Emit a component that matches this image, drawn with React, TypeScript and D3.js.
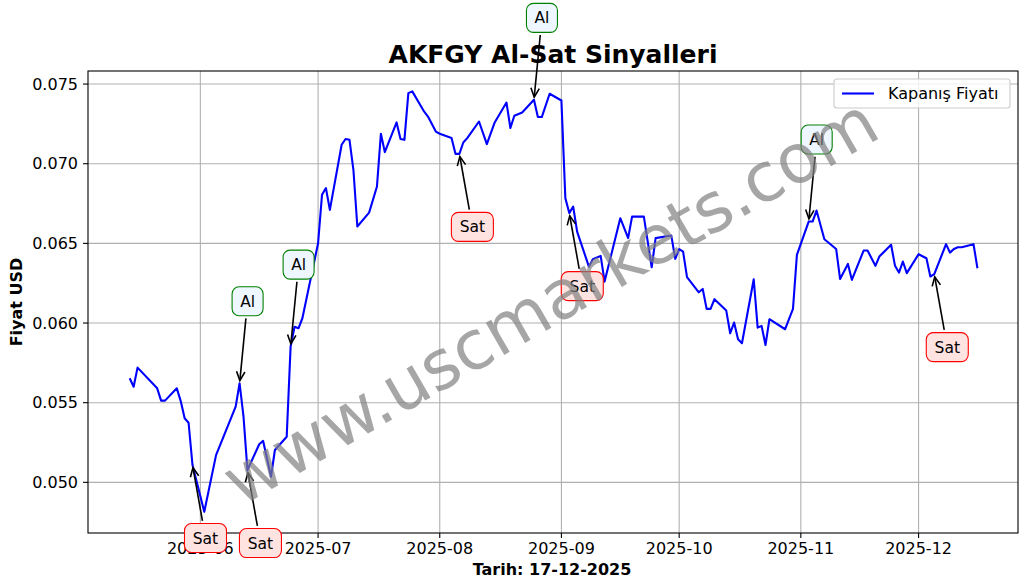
import React from 'react';
import * as d3 from 'd3';

const dates = [
  "2025-05-14","2025-05-15","2025-05-16","2025-05-21","2025-05-22","2025-05-23","2025-05-26","2025-05-27","2025-05-28","2025-05-29","2025-05-30",
  "2025-06-02","2025-06-05","2025-06-10","2025-06-11","2025-06-12","2025-06-13","2025-06-16","2025-06-17","2025-06-19","2025-06-20",
  "2025-06-23","2025-06-24","2025-06-25","2025-06-26","2025-06-27","2025-07-01","2025-07-02","2025-07-03","2025-07-04",
  "2025-07-07","2025-07-08","2025-07-09","2025-07-10","2025-07-11","2025-07-14","2025-07-16","2025-07-17","2025-07-18",
  "2025-07-21","2025-07-22","2025-07-23","2025-07-24","2025-07-25","2025-07-28","2025-07-29","2025-07-31","2025-08-01",
  "2025-08-04","2025-08-05","2025-08-06","2025-08-07","2025-08-08","2025-08-11","2025-08-13","2025-08-15",
  "2025-08-18","2025-08-19","2025-08-20","2025-08-22","2025-08-25","2025-08-26","2025-08-27","2025-08-29",
  "2025-09-01","2025-09-02","2025-09-03","2025-09-04","2025-09-05","2025-09-08","2025-09-09","2025-09-11","2025-09-12",
  "2025-09-16","2025-09-18","2025-09-19","2025-09-22","2025-09-24","2025-09-25","2025-09-29","2025-09-30",
  "2025-10-01","2025-10-02","2025-10-03","2025-10-06","2025-10-07","2025-10-08","2025-10-09","2025-10-10",
  "2025-10-13","2025-10-14","2025-10-15","2025-10-16","2025-10-17","2025-10-20","2025-10-21","2025-10-22","2025-10-23","2025-10-24",
  "2025-10-28","2025-10-30","2025-10-31","2025-11-03","2025-11-04","2025-11-05","2025-11-07","2025-11-10","2025-11-11",
  "2025-11-13","2025-11-14","2025-11-17","2025-11-18","2025-11-20","2025-11-21","2025-11-24","2025-11-25","2025-11-26",
  "2025-11-27","2025-11-28","2025-12-01","2025-12-03","2025-12-04","2025-12-05","2025-12-08","2025-12-09","2025-12-10",
  "2025-12-11","2025-12-12","2025-12-15","2025-12-16"
];

const closes = [
  0.05653,0.05600,0.05720,0.05590,0.05513,0.05513,0.05590,0.05510,0.05402,0.05374,0.05109,
  0.04815,0.05171,0.05475,0.05622,0.05412,0.05077,0.05239,0.05260,0.05035,0.05203,
  0.05286,0.05852,0.05977,0.05967,0.06030,0.06501,0.06805,0.06847,0.06710,
  0.07119,0.07155,0.07150,0.06962,0.06606,0.06693,0.06857,0.07188,0.07073,
  0.07259,0.07155,0.07150,0.07443,0.07454,0.07328,0.07296,0.07202,0.07188,
  0.07161,0.07062,0.07062,0.07133,0.07161,0.07265,0.07123,0.07259,
  0.07384,0.07224,0.07301,0.07322,0.07401,0.07293,0.07293,0.07439,
  0.07397,0.06784,0.06690,0.06731,0.06574,0.06354,0.06401,0.06421,0.06260,
  0.06658,0.06533,0.06668,0.06668,0.06350,0.06533,0.06549,0.06403,
  0.06464,0.06448,0.06288,0.06193,0.06214,0.06089,0.06089,0.06150,
  0.06078,0.05936,0.06003,0.05898,0.05873,0.06275,0.05971,0.05982,0.05862,0.06024,
  0.05961,0.06089,0.06428,0.06637,0.06637,0.06706,0.06526,0.06465,0.06277,
  0.06371,0.06271,0.06455,0.06455,0.06359,0.06417,0.06491,0.06359,0.06317,
  0.06386,0.06313,0.06432,0.06407,0.06292,0.06307,0.06495,0.06442,0.06465,
  0.06476,0.06476,0.06495,0.06344
];

const alDates = ["2025-06-11", "2025-06-24", "2025-08-25", "2025-11-03"];
const satDates = ["2025-05-30", "2025-06-13", "2025-08-06", "2025-09-03", "2025-12-05"];

const yTicks = [0.050, 0.055, 0.060, 0.065, 0.070, 0.075];
const xTickLabels = ["2025-06", "2025-07", "2025-08", "2025-09", "2025-10", "2025-11", "2025-12"];

const titleText = "AKFGY Al-Sat Sinyalleri";
const yLabelText = "Fiyat USD";
const xLabelText = "Tarih: 17-12-2025";
const legendText = "Kapanış Fiyatı";
const watermarkText = "www.uscmarkets.com";

const FONT = "'DejaVu Sans', sans-serif";

export default function App() {
  const W = 1028, H = 588;
  const L = 88, R = 1018, T = 71, B = 533;
  const parse = d3.utcParse("%Y-%m-%d");
  const x = d3.scaleUtc()
    .domain([new Date(Date.UTC(2025, 4, 3, 9)), new Date(Date.UTC(2025, 11, 26, 8))])
    .range([L, R]);
  const y = d3.scaleLinear().domain([0.04682, 0.07582]).range([B, T]);

  const data = dates.map((d, i) => ({ date: parse(d) as Date, v: closes[i] }));
  const line = d3.line<{ date: Date; v: number }>().x(d => x(d.date)).y(d => y(d.v));

  const xTicks = xTickLabels.map(s => parse(s + "-01") as Date);

  const valueAt = (s: string) => {
    const i = dates.indexOf(s);
    return { date: parse(s) as Date, v: closes[i] };
  };

  const signals = [
    ...alDates.map(s => ({ ...valueAt(s), kind: "Al" })),
    ...satDates.map(s => ({ ...valueAt(s), kind: "Sat" })),
  ];

  const renderSignal = (s: any, i: number) => {
    const px = x(s.date), py = y(s.v);
    const isAl = s.kind === "Al";
    const cx = px + (isAl ? 8 : 13);
    const cy = py + (isAl ? -82 : 73);
    const bw = isAl ? 31 : 42, bh = 29;
    const dx = px - cx, dy = py - cy;
    const len = Math.hypot(dx, dy);
    const ux = dx / len, uy = dy / len;
    const tEdge = Math.min(Math.abs(dx) > 1e-6 ? (bw / 2) / Math.abs(dx) : Infinity, (bh / 2) / Math.abs(dy));
    const sx = cx + dx * tEdge + ux * 2.7, sy = cy + dy * tEdge + uy * 2.7;
    const ex = px - ux * 2.7, ey = py - uy * 2.7;
    const hl = 9, hw = 4.2;
    const bx = ex - ux * hl, by = ey - uy * hl;
    const nx = -uy, ny = ux;
    return (
      <g key={i}>
        <line x1={sx} y1={sy} x2={ex} y2={ey} stroke="black" strokeWidth={1.6} />
        <polyline
          points={`${bx + nx * hw},${by + ny * hw} ${ex},${ey} ${bx - nx * hw},${by - ny * hw}`}
          fill="none" stroke="black" strokeWidth={1.6} />
        <rect x={cx - bw / 2} y={cy - bh / 2} width={bw} height={bh} rx={7} ry={7}
          fill={isAl ? "#eef6ff" : "#ffe3e0"} stroke={isAl ? "green" : "red"} strokeWidth={1.1} />
        <text x={cx} y={cy} dy="0.36em" textAnchor="middle" fontSize={15.5} fontFamily={FONT} fill="black">{s.kind}</text>
      </g>
    );
  };

  return (
    <svg width={W} height={H} style={{ position: "absolute", left: 0, top: 0, background: "white" }}
      xmlns="http://www.w3.org/2000/svg">
      <rect x={0} y={0} width={W} height={H} fill="white" />
      {/* grid */}
      <g>
        {xTicks.map((d, i) => (
          <line key={"gx" + i} x1={x(d)} x2={x(d)} y1={T} y2={B} stroke="#b0b0b0" strokeWidth={1.1} />
        ))}
        {yTicks.map((t, i) => (
          <line key={"gy" + i} x1={L} x2={R} y1={y(t)} y2={y(t)} stroke="#b0b0b0" strokeWidth={1.1} />
        ))}
      </g>
      {/* price line */}
      <path d={line(data) || ""} fill="none" stroke="blue" strokeWidth={2.1} strokeLinejoin="round" />
      {/* frame */}
      <rect x={L} y={T} width={R - L} height={B - T} fill="none" stroke="black" strokeWidth={1.1} />
      {/* y ticks */}
      {yTicks.map((t, i) => (
        <g key={"yt" + i}>
          <line x1={L - 5} x2={L} y1={y(t)} y2={y(t)} stroke="black" strokeWidth={1.1} />
          <text x={L - 10} y={y(t)} dy="0.36em" textAnchor="end" fontSize={16} fontFamily={FONT}>{d3.format(".3f")(t)}</text>
        </g>
      ))}
      {/* x ticks */}
      {xTicks.map((d, i) => (
        <g key={"xt" + i}>
          <line x1={x(d)} x2={x(d)} y1={B} y2={B + 5} stroke="black" strokeWidth={1.1} />
          <text x={x(d)} y={554} textAnchor="middle" fontSize={16} fontFamily={FONT}>{xTickLabels[i]}</text>
        </g>
      ))}
      {/* labels */}
      <text x={553} y={63} textAnchor="middle" fontSize={25} fontWeight="bold" fontFamily={FONT}>{titleText}</text>
      <text x={552} y={575} textAnchor="middle" fontSize={16} fontWeight="bold" fontFamily={FONT}>{xLabelText}</text>
      <text transform="translate(22,302) rotate(-90)" textAnchor="middle" fontSize={16} fontWeight="bold" fontFamily={FONT}>{yLabelText}</text>
      {/* legend */}
      <g>
        <rect x={834} y={79} width={176} height={29} rx={3} fill="white" fillOpacity={0.8} stroke="#cccccc" strokeWidth={1.1} />
        <line x1={842} x2={874} y1={93.5} y2={93.5} stroke="blue" strokeWidth={2.1} />
        <text x={888} y={93.5} dy="0.36em" fontSize={16} fontFamily={FONT}>{legendText}</text>
      </g>
      {/* signals (drawn over the axes, as in the reference) */}
      {signals.map(renderSignal)}
      {/* watermark */}
      <text transform="translate(550,301) rotate(-30)" textAnchor="middle" dy="0.35em" fontSize={68}
        fontFamily={FONT} fill="#808080" fillOpacity={0.7}>{watermarkText}</text>
    </svg>
  );
}
